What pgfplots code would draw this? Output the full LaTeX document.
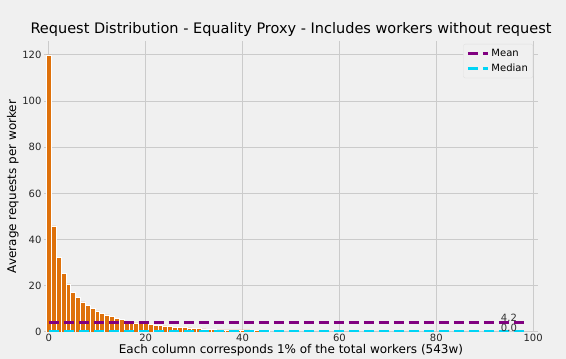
\documentclass[border=0pt]{standalone}
\usepackage{pgfplots}
\pgfplotsset{compat=1.18}
\usepackage{fontspec}
\setmainfont{DejaVu Sans}
\definecolor{bg}{RGB}{240,240,240}
\definecolor{gridc}{RGB}{203,203,203}
\definecolor{barc}{RGB}{222,113,11}
\definecolor{meanc}{RGB}{128,0,128}
\definecolor{medc}{RGB}{0,212,245}
\begin{document}
\begin{tikzpicture}
\fill[bg] (-44pt,-27pt) rectangle (522pt,332pt);
\begin{axis}[
  at={(0,0)}, anchor=south west,
  scale only axis, width=494pt, height=291pt,
  xmin=-1, xmax=101, ymin=0, ymax=126,
  axis line style={draw=none},
  xtick={0,20,...,100}, ytick={0,20,...,120},
  major tick length=0pt,
  grid=major,
  major grid style={gridc, line width=1pt},
  /pgf/number format/assume math mode=true,
  tick label style={font=\fontsize{10}{12}\selectfont, text=black!85},
  xticklabel style={yshift=1pt},
  yticklabel style={xshift=1pt},
  title={Request Distribution - Equality Proxy - Includes workers without request},
  title style={font=\fontsize{14.5}{17}\selectfont, yshift=-5pt},
  xlabel={Each column corresponds 1\% of the total workers (543w)},
  ylabel={Average requests per worker},
  label style={font=\fontsize{12}{14}\selectfont},
  xlabel style={yshift=5pt},
  ylabel style={yshift=-3pt},
  legend style={at={(0.99,0.99)}, anchor=north east, fill=bg, draw=black!12,
    rounded corners=2pt, font=\fontsize{10}{12}\selectfont, row sep=2pt,
    inner xsep=3pt, inner ysep=3pt},
  legend cell align=left,
  legend image code/.code={\draw[#1] (0pt,0pt) -- (20pt,0pt);},
  bar width=1,
]
\addplot[ybar, fill=barc, draw=white, line width=0.5pt, forget plot] coordinates {
(0,120) (1,46) (2,32.3) (3,25.4) (4,20.8) (5,17.0) (6,15.0) (7,13.0) (8,11.4) (9,10.3)
(10,9.1) (11,8.1) (12,7.4) (13,6.8) (14,5.8) (15,5.5) (16,4.6) (17,4.3) (18,4.0) (19,3.8)
(20,3.6) (21,3.2) (22,3.0) (23,2.8) (24,2.7) (25,2.4) (26,2.1) (27,2.0) (28,1.9) (29,1.8)
(30,1.7) (31,1.6) (32,1.4) (33,1.1) (34,1.0) (35,0.9) (36,0.9) (37,0.9) (38,0.9) (39,0.9)
(40,0.9) (41,0.9) (42,0.8) (43,0.8) (44,0.8) (45,0.8)
};
\addplot[meanc, line width=3pt, dash pattern=on 10.5pt off 4.5pt] coordinates {(0,4.2) (99,4.2)};
\addlegendentry{Mean}
\addplot[medc, line width=3pt, dash pattern=on 10.5pt off 4.5pt] coordinates {(0,0) (99,0)};
\addlegendentry{Median}
\node[anchor=base, font=\fontsize{10}{12}\selectfont, text=black!80, inner sep=0pt] at (axis cs:95,4.4) {4.2};
\node[anchor=base, font=\fontsize{10}{12}\selectfont, text=black!80, inner sep=0pt] at (axis cs:95,0.4) {0.0};
\end{axis}
\pgfresetboundingbox
\path (-44pt,-27pt) rectangle (522pt,332pt);
\end{tikzpicture}
\end{document}
